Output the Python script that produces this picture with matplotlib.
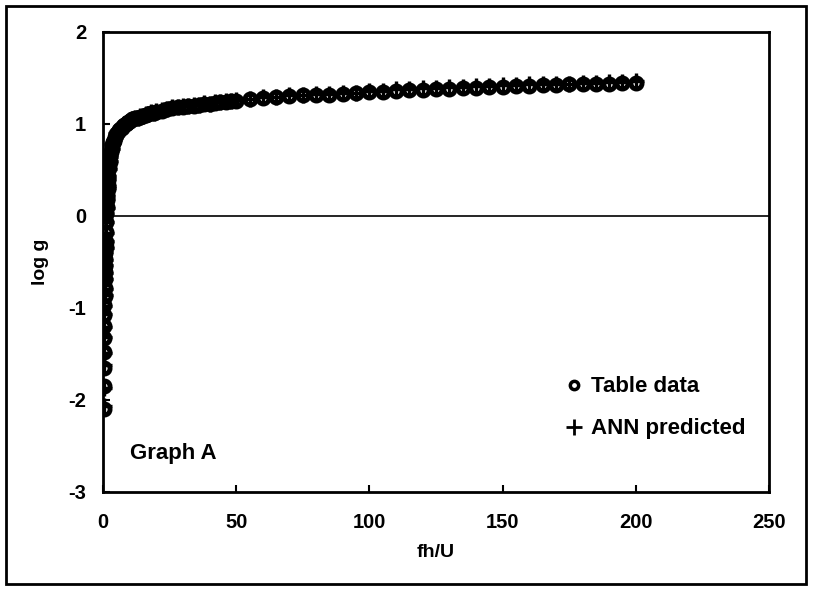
import numpy as np
import matplotlib
matplotlib.use("Agg")
import matplotlib.pyplot as plt
from matplotlib.patches import Rectangle

plt.rcParams['font.family'] = ['Liberation Sans', 'DejaVu Sans']
plt.rcParams['font.weight'] = 'bold'
plt.rcParams['axes.unicode_minus'] = False

# fh/U values and log g (table and ANN prediction)
fh_u = [0.20, 0.25, 0.30, 0.35, 0.40, 0.45, 0.50, 0.55, 0.60, 0.65, 0.70,
        0.75, 0.80, 0.85, 0.90, 0.95, 1.0, 1.1, 1.2, 1.3, 1.4, 1.5, 1.6,
        1.7, 1.8, 1.9, 2.0, 2.25, 2.5, 2.75, 3.0, 3.25, 3.5, 3.75, 4.0,
        4.5, 5.0, 5.5, 6.0, 6.5, 7.0, 7.5, 8.0, 8.5, 9.0, 9.5,
        10, 11, 12, 13, 14, 15, 16, 17, 18, 19, 20, 22, 24, 26, 28, 30,
        32, 34, 36, 38, 40, 42, 44, 46, 48, 50, 55, 60, 65, 70, 75, 80,
        85, 90, 95, 100, 105, 110, 115, 120, 125, 130, 135, 140, 145, 150,
        155, 160, 165, 170, 175, 180, 185, 190, 195, 200]
log_g_table = [-2.10, -1.85, -1.65, -1.48, -1.33, -1.20, -1.08, -0.97, -0.87,
               -0.78, -0.69, -0.61, -0.54, -0.47, -0.40, -0.34, -0.28, -0.17,
               -0.07, 0.02, 0.10, 0.17, 0.23, 0.29, 0.34, 0.39, 0.43, 0.52,
               0.59, 0.65, 0.70, 0.74, 0.77, 0.80, 0.82, 0.86, 0.89, 0.91,
               0.93, 0.95, 0.96, 0.98, 0.99, 1.00, 1.01, 1.02,
               1.03, 1.05, 1.06, 1.07, 1.08, 1.09, 1.10, 1.11, 1.12, 1.12,
               1.13, 1.14, 1.16, 1.17, 1.18, 1.19, 1.20, 1.20, 1.21, 1.22,
               1.22, 1.23, 1.24, 1.24, 1.25, 1.25, 1.27, 1.28, 1.29, 1.30,
               1.31, 1.32, 1.32, 1.33, 1.34, 1.35, 1.35, 1.36, 1.37, 1.37,
               1.38, 1.38, 1.39, 1.39, 1.40, 1.40, 1.41, 1.41, 1.42, 1.42,
               1.43, 1.43, 1.44, 1.44, 1.45, 1.45]
log_g_ann = [-2.06, -1.87, -1.62, -1.49, -1.31, -1.21, -1.06, -0.98, -0.86,
             -0.79, -0.68, -0.62, -0.53, -0.48, -0.39, -0.35, -0.27, -0.18,
             -0.06, 0.03, 0.09, 0.18, 0.22, 0.30, 0.33, 0.40, 0.44, 0.51,
             0.60, 0.64, 0.71, 0.73, 0.78, 0.79, 0.83, 0.85, 0.90, 0.91,
             0.94, 0.94, 0.97, 0.97, 1.00, 1.00, 1.02, 1.02,
             1.04, 1.05, 1.07, 1.07, 1.09, 1.09, 1.11, 1.11, 1.13, 1.12,
             1.14, 1.15, 1.16, 1.18, 1.18, 1.20, 1.20, 1.21, 1.21, 1.23,
             1.22, 1.24, 1.24, 1.25, 1.25, 1.26, 1.27, 1.29, 1.29, 1.31,
             1.31, 1.33, 1.33, 1.34, 1.34, 1.36, 1.36, 1.38, 1.38, 1.39,
             1.39, 1.40, 1.40, 1.41, 1.41, 1.42, 1.42, 1.43, 1.43, 1.44,
             1.44, 1.45, 1.45, 1.46, 1.46, 1.47]

fig = plt.figure(figsize=(8.13, 5.89), dpi=100)
ax = fig.add_axes([0.1267, 0.1647, 0.8192, 0.781])

ax.plot(fh_u, log_g_table, 'o', ms=8, mfc='none', mec='black', mew=3.5,
        label='Table data')
ax.plot(fh_u, log_g_ann, '+', ms=12, mec='black', mew=2.4,
        label='ANN predicted')
ax.axhline(0, color='black', lw=1.2)

ax.set_xlim(0, 250)
ax.set_ylim(-3, 2)
ax.set_xticks([0, 50, 100, 150, 200, 250])
ax.set_yticks([-3, -2, -1, 0, 1, 2])
ax.tick_params(direction='in', length=5, width=1.5, labelsize=14.5)
ax.tick_params(axis='x', pad=15)
ax.tick_params(axis='y', pad=12)
for s in ax.spines.values():
    s.set_linewidth(2)
ax.set_xlabel('fh/U', fontsize=14, fontweight='bold', labelpad=9)
ax.set_ylabel('log g', fontsize=14, fontweight='bold', labelpad=14)

ax.text(10, -2.64, 'Graph A', fontsize=16, fontweight='bold')
leg = ax.legend(loc='lower right', bbox_to_anchor=(0.978, 0.095), frameon=False,
                fontsize=16, handletextpad=0.35, handlelength=0.8,
                labelspacing=0.95, borderaxespad=0)
leg.legend_handles[0].set_markersize(6)
leg.legend_handles[0].set_markeredgewidth(2.5)
leg.legend_handles[1].set_markersize(11)
leg.legend_handles[1].set_markeredgewidth(2)

fig.patches.append(Rectangle((0.007, 0.008), 0.985, 0.982, transform=fig.transFigure,
                             fill=False, edgecolor='black', lw=2))

fig.savefig('out.png', dpi=100)
